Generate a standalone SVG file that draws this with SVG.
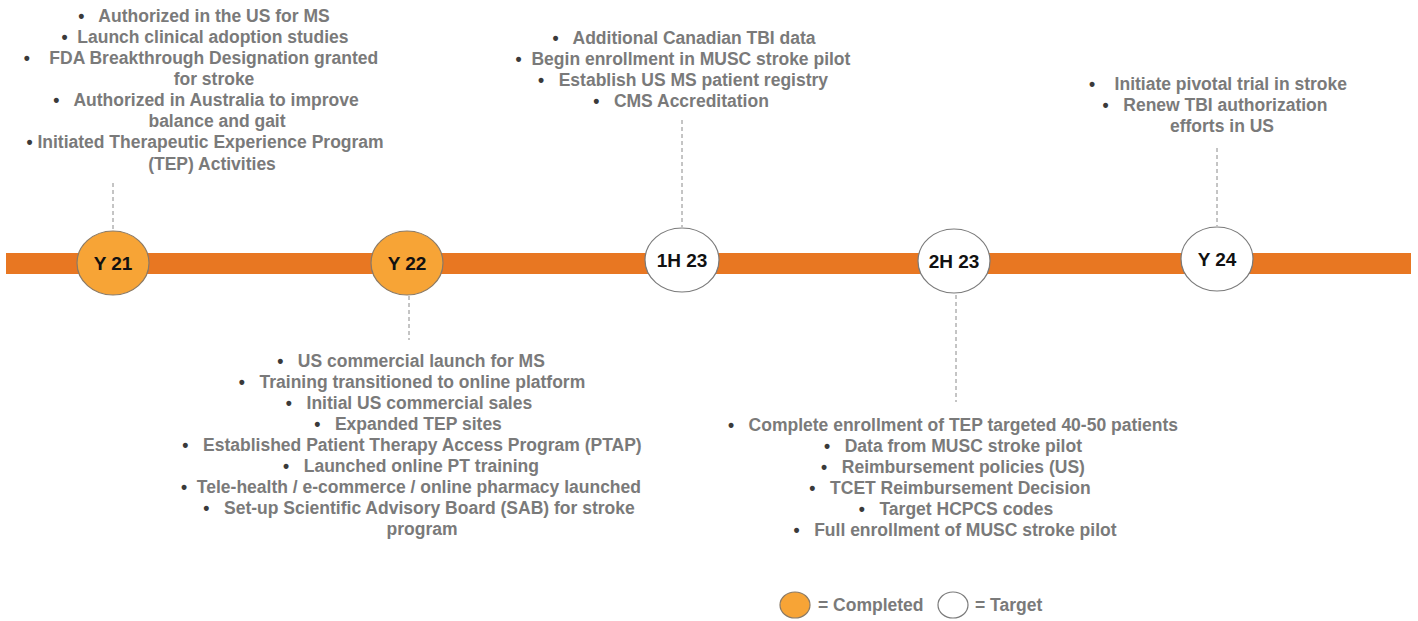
<svg xmlns="http://www.w3.org/2000/svg" width="1418" height="621" viewBox="0 0 1418 621" xml:space="preserve">
  <style>
    .note { font-family: "Liberation Sans", Arial, sans-serif; font-weight: bold; font-size: 17.5px; fill: #7a7a7a; text-anchor: middle; white-space: pre; }
    .dot { fill: #3a3a3a; }
    .lbl { font-family: "Liberation Sans", Arial, sans-serif; font-weight: bold; font-size: 19px; fill: #111; text-anchor: middle; }
    .done { fill: #F7A436; stroke: #8a7a66; stroke-width: 1.2; }
    .todo { fill: #ffffff; stroke: #7a7a7a; stroke-width: 1.2; }
    .lead { stroke: #8a8a8a; stroke-width: 1; stroke-dasharray: 4 3; fill: none; }
  </style>

  <rect width="1418" height="621" fill="#ffffff"/>

  <!-- timeline bar -->
  <rect x="6" y="253" width="1405" height="21" fill="#E87722"/>

  <!-- leader lines -->
  <g id="connectors">
    <line class="lead" x1="113" y1="183" x2="113" y2="229"/>
    <line class="lead" x1="409" y1="296" x2="409" y2="340"/>
    <line class="lead" x1="682" y1="120" x2="682" y2="227"/>
    <line class="lead" x1="956" y1="295" x2="956" y2="402"/>
    <line class="lead" x1="1217" y1="148" x2="1217" y2="226"/>
  </g>

  <!-- milestones -->
  <g id="y21">
    <ellipse class="done" cx="113" cy="263" rx="36" ry="32"/>
    <text class="lbl" x="113" y="270">Y 21</text>
  </g>
  <g id="y22">
    <ellipse class="done" cx="407" cy="263" rx="36" ry="32"/>
    <text class="lbl" x="407" y="270">Y 22</text>
  </g>
  <g id="h1-23">
    <ellipse class="todo" cx="682" cy="260" rx="37" ry="32"/>
    <text class="lbl" x="682" y="267">1H 23</text>
  </g>
  <g id="h2-23">
    <ellipse class="todo" cx="954" cy="261" rx="36" ry="32"/>
    <text class="lbl" x="954" y="268">2H 23</text>
  </g>
  <g id="y24">
    <ellipse class="todo" cx="1217" cy="259" rx="36" ry="32"/>
    <text class="lbl" x="1217" y="266">Y 24</text>
  </g>

  <!-- milestone notes -->
  <g id="notes-y21">
    <text class="note" x="204" y="22"><tspan class="dot">•</tspan>   Authorized in the US for MS</text>
    <text class="note" x="205" y="43"><tspan class="dot">•</tspan>  Launch clinical adoption studies</text>
    <text class="note" x="201" y="64"><tspan class="dot">•</tspan>    FDA Breakthrough Designation granted</text>
    <text class="note" x="214" y="85">for stroke</text>
    <text class="note" x="206" y="106"><tspan class="dot">•</tspan>   Authorized in Australia to improve</text>
    <text class="note" x="217" y="127">balance and gait</text>
    <text class="note" x="205" y="148"><tspan class="dot">•</tspan> Initiated Therapeutic Experience Program</text>
    <text class="note" x="212" y="170">(TEP) Activities</text>
  </g>

  <g id="notes-h1-23">
    <text class="note" x="684" y="44"><tspan class="dot">•</tspan>   Additional Canadian TBI data</text>
    <text class="note" x="683" y="65"><tspan class="dot">•</tspan>  Begin enrollment in MUSC stroke pilot</text>
    <text class="note" x="683" y="86"><tspan class="dot">•</tspan>   Establish US MS patient registry</text>
    <text class="note" x="681" y="107"><tspan class="dot">•</tspan>   CMS Accreditation</text>
  </g>

  <g id="notes-y24">
    <text class="note" x="1218" y="90"><tspan class="dot">•</tspan>    Initiate pivotal trial in stroke</text>
    <text class="note" x="1215" y="111"><tspan class="dot">•</tspan>   Renew TBI authorization</text>
    <text class="note" x="1222" y="132">efforts in US</text>
  </g>

  <g id="notes-y22">
    <text class="note" x="411" y="367"><tspan class="dot">•</tspan>   US commercial launch for MS</text>
    <text class="note" x="412" y="388"><tspan class="dot">•</tspan>   Training transitioned to online platform</text>
    <text class="note" x="409" y="409"><tspan class="dot">•</tspan>   Initial US commercial sales</text>
    <text class="note" x="408" y="430"><tspan class="dot">•</tspan>   Expanded TEP sites</text>
    <text class="note" x="412" y="451"><tspan class="dot">•</tspan>   Established Patient Therapy Access Program (PTAP)</text>
    <text class="note" x="411" y="472"><tspan class="dot">•</tspan>   Launched online PT training</text>
    <text class="note" x="411" y="493"><tspan class="dot">•</tspan>  Tele-health / e-commerce / online pharmacy launched</text>
    <text class="note" x="419" y="514"><tspan class="dot">•</tspan>   Set-up Scientific Advisory Board (SAB) for stroke</text>
    <text class="note" x="422" y="535">program</text>
  </g>

  <g id="notes-h2-23">
    <text class="note" x="953" y="431"><tspan class="dot">•</tspan>   Complete enrollment of TEP targeted 40-50 patients</text>
    <text class="note" x="953" y="452"><tspan class="dot">•</tspan>   Data from MUSC stroke pilot</text>
    <text class="note" x="953" y="473"><tspan class="dot">•</tspan>   Reimbursement policies (US)</text>
    <text class="note" x="950" y="494"><tspan class="dot">•</tspan>   TCET Reimbursement Decision</text>
    <text class="note" x="956" y="515"><tspan class="dot">•</tspan>   Target HCPCS codes</text>
    <text class="note" x="955" y="536"><tspan class="dot">•</tspan>   Full enrollment of MUSC stroke pilot</text>
  </g>

  <!-- legend -->
  <g id="legend">
    <ellipse class="done" cx="795" cy="605" rx="15" ry="13"/>
    <text class="note" x="818" y="611" style="text-anchor:start">= Completed</text>
    <ellipse class="todo" cx="953" cy="605" rx="15" ry="13"/>
    <text class="note" x="975" y="611" style="text-anchor:start">= Target</text>
  </g>
</svg>
